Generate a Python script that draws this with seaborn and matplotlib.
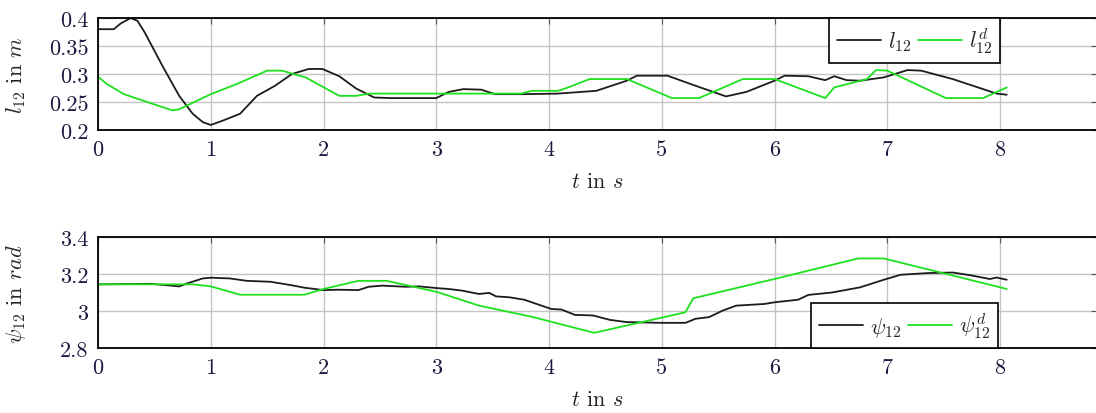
import matplotlib
matplotlib.use("Agg")
import matplotlib.pyplot as plt
import seaborn as sns
import pandas as pd
from matplotlib.ticker import FuncFormatter, FixedLocator

# ---- data ----
t_l = [0.0, 0.14, 0.2, 0.29, 0.35, 0.415, 0.57, 0.72, 0.84, 0.93, 1.0, 1.11, 1.26, 1.41, 1.57,
       1.72, 1.87, 1.99, 2.14, 2.29, 2.45, 2.6, 3.0, 3.11, 3.24, 3.4, 3.52, 3.78, 4.08, 4.42,
       4.69, 4.78, 5.05, 5.30, 5.57, 5.75, 6.0, 6.09, 6.30, 6.45, 6.53, 6.64, 6.76, 6.97,
       7.18, 7.30, 7.58, 7.85, 7.97, 8.06]
l12 = [0.38, 0.38, 0.39, 0.40, 0.395, 0.374, 0.315, 0.261, 0.229, 0.214, 0.209, 0.217, 0.229,
       0.261, 0.279, 0.300, 0.309, 0.309, 0.296, 0.274, 0.258, 0.257, 0.257, 0.268, 0.273,
       0.272, 0.264, 0.264, 0.265, 0.270, 0.288, 0.297, 0.297, 0.279, 0.260, 0.268, 0.288,
       0.297, 0.296, 0.289, 0.296, 0.289, 0.288, 0.294, 0.307, 0.306, 0.291, 0.273, 0.265,
       0.263]

t_ld = [0.0, 0.08, 0.23, 0.45, 0.66, 0.72, 1.0, 1.23, 1.5, 1.63, 1.84, 2.14, 2.29, 2.41, 3.0,
        3.75, 3.85, 4.08, 4.17, 4.36, 4.69, 5.09, 5.33, 5.72, 6.0, 6.45, 6.53, 6.82, 6.90,
        7.0, 7.52, 7.85, 8.06]
l12_d = [0.295, 0.282, 0.264, 0.249, 0.235, 0.237, 0.264, 0.282, 0.306, 0.306, 0.294, 0.261,
         0.261, 0.265, 0.265, 0.265, 0.270, 0.270, 0.276, 0.291, 0.291, 0.257, 0.257, 0.291,
         0.291, 0.257, 0.276, 0.291, 0.307, 0.306, 0.257, 0.257, 0.276]

t_p = [0.0, 0.47, 0.72, 0.8, 0.93, 1.0, 1.17, 1.32, 1.53, 1.71, 1.83, 2.0, 2.13, 2.31, 2.4,
       2.52, 2.73, 2.85, 3.0, 3.11, 3.23, 3.38, 3.47, 3.53, 3.65, 3.78, 4.02, 4.11, 4.23,
       4.39, 4.54, 4.69, 4.99, 5.21, 5.30, 5.42, 5.54, 5.66, 5.91, 6.0, 6.21, 6.30, 6.51,
       6.76, 6.97, 7.12, 7.36, 7.58, 7.73, 7.91, 7.97, 8.06]
psi12 = [3.144, 3.147, 3.133, 3.151, 3.176, 3.180, 3.176, 3.163, 3.158, 3.140, 3.126, 3.113,
         3.115, 3.113, 3.131, 3.137, 3.131, 3.133, 3.124, 3.119, 3.110, 3.092, 3.098, 3.079,
         3.074, 3.061, 3.011, 3.008, 2.979, 2.976, 2.952, 2.940, 2.936, 2.936, 2.958, 2.967,
         3.002, 3.029, 3.038, 3.047, 3.061, 3.087, 3.100, 3.128, 3.169, 3.196, 3.205, 3.208,
         3.194, 3.173, 3.181, 3.169]

t_pd = [0.0, 0.85, 1.0, 1.26, 1.83, 2.0, 2.31, 2.56, 3.0, 3.38, 3.86, 4.40, 5.21, 5.28, 6.0,
        6.74, 6.97, 8.06]
psi12_d = [3.144, 3.144, 3.133, 3.088, 3.088, 3.119, 3.163, 3.163, 3.104, 3.029, 2.967,
           2.882, 2.993, 3.069, 3.173, 3.284, 3.284, 3.119]

x_ticks = [0, 1, 2, 3, 4, 5, 6, 7, 8]
top_yticks = [0.2, 0.25, 0.3, 0.35, 0.4]
bot_yticks = [2.8, 3.0, 3.2, 3.4]

# ---- style ----
sns.set_theme(style="white")
plt.rcParams["font.family"] = ["cmr10", "DejaVu Serif"]
plt.rcParams["mathtext.fontset"] = "cm"
plt.rcParams["axes.formatter.use_mathtext"] = True

BLACK = "#1c1c1c"
GREEN = "#1ee01e"
GRID = "#c4c4c4"
FS = 16

W, H = 1096, 414
fig = plt.figure(figsize=(W / 100, H / 100), dpi=100)

left_px, right_px = 98, 1097
xmax = (right_px - left_px) / 112.75


def make_ax(top_px, bot_px):
    return fig.add_axes([left_px / W, 1 - bot_px / H, (right_px - left_px) / W,
                         (bot_px - top_px) / H])


ax1 = make_ax(19, 131)
ax2 = make_ax(238, 349)

df_l = pd.DataFrame({"t": t_l, "v": l12})
df_ld = pd.DataFrame({"t": t_ld, "v": l12_d})
df_p = pd.DataFrame({"t": t_p, "v": psi12})
df_pd = pd.DataFrame({"t": t_pd, "v": psi12_d})

sns.lineplot(data=df_l, x="t", y="v", ax=ax1, color=BLACK, lw=1.3, estimator=None,
             label=r"$l_{12}$")
sns.lineplot(data=df_ld, x="t", y="v", ax=ax1, color=GREEN, lw=1.3, estimator=None,
             label=r"$l_{12}^d$")
sns.lineplot(data=df_p, x="t", y="v", ax=ax2, color=BLACK, lw=1.3, estimator=None,
             label=r"$\psi_{12}$")
sns.lineplot(data=df_pd, x="t", y="v", ax=ax2, color=GREEN, lw=1.3, estimator=None,
             label=r"$\psi_{12}^d$")

fmt = FuncFormatter(lambda v, p: "%g" % round(v, 3))

for ax, yt, ylim, ylab in [(ax1, top_yticks, (0.2, 0.4), r"$l_{12}$ in $m$"),
                            (ax2, bot_yticks, (2.8, 3.4), r"$\psi_{12}$ in $rad$")]:
    ax.set_xlim(0, xmax)
    ax.set_ylim(*ylim)
    ax.xaxis.set_major_locator(FixedLocator(x_ticks))
    ax.yaxis.set_major_locator(FixedLocator(yt))
    ax.xaxis.set_major_formatter(fmt)
    ax.yaxis.set_major_formatter(fmt)
    ax.grid(True, color=GRID, lw=1.0)
    ax.set_axisbelow(True)
    for s in ax.spines.values():
        s.set_color("black")
        s.set_linewidth(1.3)
        s.set_visible(True)
    ax.tick_params(direction="in", length=4, width=0.8, color="#555555",
                   top=True, right=True, labelsize=FS, pad=7, labelcolor="#1a1a40")
    ax.set_xlabel(r"$t$ in $s$", fontsize=FS, labelpad=9)
    ax.set_ylabel(ylab, fontsize=FS)
    ax.yaxis.set_label_coords(-0.07, 0.5)

leg_kw = dict(ncol=2, fontsize=FS, frameon=True, fancybox=False, framealpha=1,
              edgecolor="black", handlelength=2.0, handletextpad=0.3, columnspacing=0.3,
              borderpad=0.35, borderaxespad=0)
l1 = ax1.legend(loc="upper right", bbox_to_anchor=(8.0, 0.4),
                bbox_transform=ax1.transData, **leg_kw)
l2 = ax2.legend(loc="lower right", bbox_to_anchor=(7.98, 2.8),
                bbox_transform=ax2.transData, **leg_kw)
for lg in (l1, l2):
    lg.get_frame().set_linewidth(1.2)

fig.savefig("out.png", dpi=100)
